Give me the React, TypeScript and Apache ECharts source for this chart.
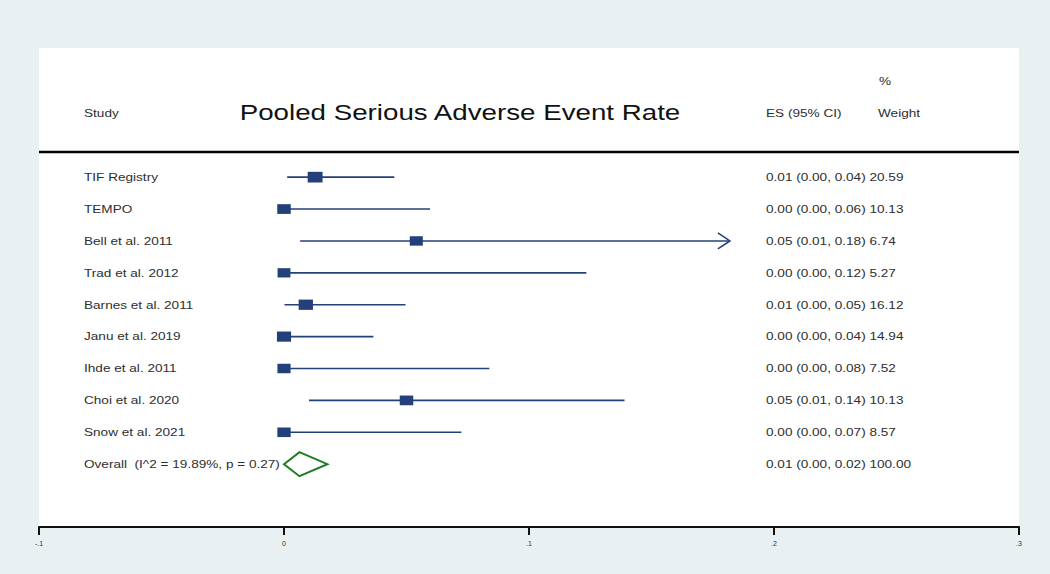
import React, { useEffect, useRef } from "react";
import * as echarts from "echarts";

const studies = [
  "TIF Registry",
  "TEMPO",
  "Bell et al. 2011",
  "Trad et al. 2012",
  "Barnes et al. 2011",
  "Janu et al. 2019",
  "Ihde et al. 2011",
  "Choi et al. 2020",
  "Snow et al. 2021",
];
const es = [0.0127, 0.0, 0.054, 0.0, 0.0089, 0.0, 0.0, 0.05, 0.0];
const lo = [0.0013, 0.0, 0.0066, 0.0, 0.0002, 0.0, 0.0, 0.0102, 0.0];
const hi = [0.045, 0.0596, 0.182, 0.1234, 0.0496, 0.0365, 0.0838, 0.139, 0.0724];
const truncated = [false, false, true, false, false, false, false, false, false];
const weights = [20.59, 10.13, 6.74, 5.27, 16.12, 14.94, 7.52, 10.13, 8.57];
const esText = [
  "0.01 (0.00, 0.04)",
  "0.00 (0.00, 0.06)",
  "0.05 (0.01, 0.18)",
  "0.00 (0.00, 0.12)",
  "0.01 (0.00, 0.05)",
  "0.00 (0.00, 0.04)",
  "0.00 (0.00, 0.08)",
  "0.05 (0.01, 0.14)",
  "0.00 (0.00, 0.07)",
];
const weightText = ["20.59", "10.13", "6.74", "5.27", "16.12", "14.94", "7.52", "10.13", "8.57"];

const overallLabel = "Overall  (I^2 = 19.89%, p = 0.27)";
const overallEs = 0.0063;
const overallLo = 0.0;
const overallHi = 0.0177;
const overallEsText = "0.01 (0.00, 0.02)";
const overallWeightText = "100.00";

const tickLabels = ["-.1", "0", ".1", ".2", ".3"];

const FONT = "'Liberation Sans', Arial, sans-serif";
const TEXT_COLOR = "#2e2e2e";
const NAVY = "#24407a";
const GREEN = "#1e7d1e";
const SX = 1.36;

export default function App() {
  const ref = useRef<HTMLDivElement>(null);

  useEffect(() => {
    if (!ref.current) return;
    const chart = echarts.init(ref.current, null, { renderer: "svg" });

    const rowNames = [...studies, overallLabel];
    const rowRight = [
      ...esText.map((t, i) => t + " " + weightText[i]),
      overallEsText + " " + overallWeightText,
    ];
    const overallRow = studies.length;

    const headText = (text: string, x: number, y: number) => ({
      type: "text",
      x,
      y,
      scaleX: SX,
      style: { text, fill: TEXT_COLOR, fontSize: 10, fontFamily: FONT, verticalAlign: "middle" },
    });

    const option: any = {
      animation: false,
      backgroundColor: "#e8f0f2",
      grid: {
        left: 39,
        right: 31,
        top: 48,
        bottom: 47,
        show: true,
        backgroundColor: "#ffffff",
        borderWidth: 0,
      },
      xAxis: {
        type: "value",
        min: -0.1,
        max: 0.3,
        interval: 0.1,
        splitLine: { show: false },
        axisLine: { show: true, onZero: false, lineStyle: { color: "#111", width: 2 } },
        axisTick: { show: true, length: 8, lineStyle: { color: "#111", width: 2 } },
        axisLabel: {
          fontSize: 7,
          color: "#333",
          margin: 13,
          fontFamily: FONT,
          formatter: (_v: number, idx: number) => tickLabels[idx] ?? "",
        },
      },
      yAxis: {
        type: "value",
        inverse: true,
        min: -4.05,
        max: 10.97,
        show: false,
      },
      graphic: [
        headText("Study", 84, 114),
        {
          type: "text",
          x: 460,
          y: 112,
          scaleX: 1.26,
          style: {
            text: "Pooled Serious Adverse Event Rate",
            fill: "#111",
            fontSize: 22,
            fontFamily: FONT,
            align: "center",
            verticalAlign: "middle",
          },
        },
        headText("ES (95% CI)", 766, 114),
        headText("%", 879, 82),
        headText("Weight", 878, 114),
        {
          type: "line",
          shape: { x1: 39, y1: 152, x2: 1019, y2: 152 },
          style: { stroke: "#000", lineWidth: 2.5 },
        },
      ],
      series: [
        {
          type: "custom",
          name: "ci",
          silent: true,
          data: studies.map((_, i) => [lo[i], hi[i], i, truncated[i] ? 1 : 0]),
          renderItem: (_p: any, api: any) => {
            const i = api.value(2);
            const a = api.coord([api.value(0), i]);
            const b = api.coord([api.value(1), i]);
            const children: any[] = [
              {
                type: "line",
                shape: { x1: a[0], y1: a[1], x2: b[0], y2: b[1] },
                style: { stroke: NAVY, lineWidth: 1.6 },
              },
            ];
            if (api.value(3) === 1) {
              children.push({
                type: "polyline",
                shape: {
                  points: [
                    [b[0] - 12, b[1] - 8],
                    [b[0], b[1]],
                    [b[0] - 12, b[1] + 8],
                  ],
                },
                style: { stroke: NAVY, lineWidth: 1.6, fill: "none" },
              });
            }
            return { type: "group", children };
          },
        },
        {
          type: "scatter",
          name: "es",
          silent: true,
          symbol: "rect",
          symbolSize: (_v: any, params: any) => {
            const w = 12.2 + weights[params.dataIndex] * 0.13;
            return [w, w * 0.72];
          },
          itemStyle: { color: NAVY, opacity: 1 },
          data: studies.map((_, i) => [es[i], i]),
          z: 5,
        },
        {
          type: "custom",
          name: "overall",
          silent: true,
          data: [[overallLo, overallEs, overallHi, overallRow]],
          renderItem: (_p: any, api: any) => {
            const r = api.value(3);
            const l = api.coord([api.value(0), r]);
            const c = api.coord([api.value(1), r]);
            const h = api.coord([api.value(2), r]);
            return {
              type: "polygon",
              shape: {
                points: [
                  [l[0], l[1]],
                  [c[0], c[1] - 12],
                  [h[0], h[1]],
                  [c[0], c[1] + 12],
                ],
              },
              style: { stroke: GREEN, lineWidth: 2, fill: "none" },
            };
          },
        },
        {
          type: "custom",
          name: "text",
          silent: true,
          data: rowNames.map((_, i) => [i]),
          renderItem: (params: any, api: any) => {
            const i = params.dataIndex;
            const y = api.coord([0, api.value(0)])[1] + 0.5;
            const base = { fill: TEXT_COLOR, fontSize: 10, fontFamily: FONT, verticalAlign: "middle" };
            return {
              type: "group",
              children: [
                { type: "text", x: 84, y, scaleX: SX, style: { ...base, text: rowNames[i] } },
                { type: "text", x: 766, y, scaleX: SX, style: { ...base, text: rowRight[i] } },
              ],
            };
          },
        },
      ],
    };

    chart.setOption(option);
    return () => chart.dispose();
  }, []);

  return (
    <div
      ref={ref}
      style={{ position: "fixed", left: 0, top: 0, width: 1050, height: 574 }}
    />
  );
}
